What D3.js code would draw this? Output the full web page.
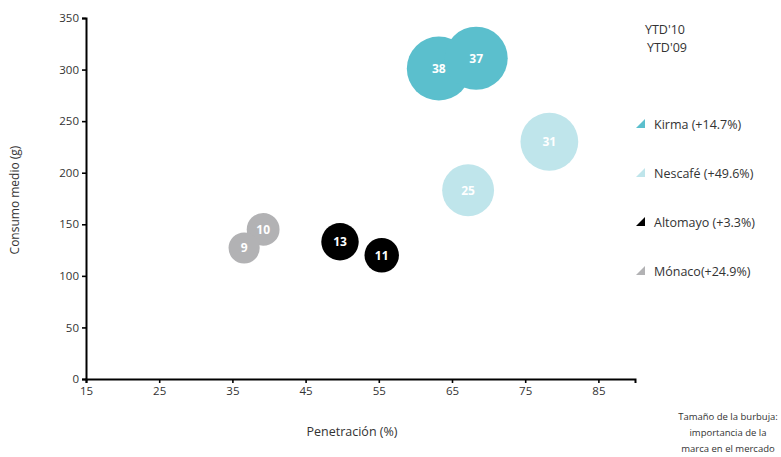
<!DOCTYPE html>
<html>
<head>
<meta charset="utf-8">
<script src="https://cdn.jsdelivr.net/npm/d3@7"></script>
<style>
  html, body { margin: 0; padding: 0; background: #fff; }
  svg { display: block; font-family: "Open Sans", "Noto Sans", sans-serif; }
</style>
</head>
<body>
<svg id="chart" width="781" height="457"></svg>
<script>
// Brand bubbles: penetration (%), average consumption (g), market weight
const brands      = ["Kirma", "Kirma", "Nescafé", "Nescafé", "Altomayo", "Altomayo", "Mónaco", "Mónaco"];
const penetration = [63.2, 68.3, 78.3, 67.2, 49.7, 55.4, 39.2, 36.6];
const consumption = [301, 311, 230, 183, 133, 120, 145, 127];
const weight      = [38, 37, 31, 25, 13, 11, 10, 9];

const legendBrands = ["Kirma", "Nescafé", "Altomayo", "Mónaco"];
const legendLabels = ["Kirma (+14.7%)", "Nescafé (+49.6%)", "Altomayo (+3.3%)", "Mónaco(+24.9%)"];
const brandColors  = ["#5bbfcd", "#bfe5eb", "#000000", "#b2b2b4"];

const xTicks = [15, 25, 35, 45, 55, 65, 75, 85];
const yTicks = [0, 50, 100, 150, 200, 250, 300, 350];
const periodLabels = ["YTD'10", "YTD'09"];
const noteLines = ["Tamaño de la burbuja:", "importancia de la", "marca en el mercado"];

const svg = d3.select("#chart");
const textColor = "#333";

const x = d3.scaleLinear().domain([15, 90]).range([86, 635]);
const y = d3.scaleLinear().domain([0, 350]).range([379, 18]);
const r = d3.scaleSqrt().domain([0, 38]).range([0, 32]);
const color = d3.scaleOrdinal().domain(legendBrands).range(brandColors);

// Axes
const xAxis = svg.append("g")
  .attr("transform", `translate(0,${y(0)})`)
  .call(d3.axisBottom(x).tickValues(xTicks).tickSize(4).tickPadding(4));
const yAxis = svg.append("g")
  .attr("transform", `translate(${x(15)},0)`)
  .call(d3.axisLeft(y).tickValues(yTicks).tickSize(4).tickPadding(3));

[xAxis, yAxis].forEach(g => {
  g.select(".domain").attr("stroke", "#000").attr("stroke-width", 2);
  g.selectAll(".tick line").attr("stroke", "#000").attr("stroke-width", 1.6);
  g.selectAll(".tick text")
    .attr("fill", textColor)
    .style("font-size", "11.5px")
    .style("font-family", "\"Open Sans\", \"Noto Sans\", sans-serif");
});

// Axis titles
svg.append("text")
  .attr("x", 352).attr("y", 436)
  .attr("text-anchor", "middle")
  .attr("fill", textColor)
  .style("font-size", "12.5px")
  .text("Penetración (%)");

svg.append("text")
  .attr("transform", "translate(19,200) rotate(-90)")
  .attr("text-anchor", "middle")
  .attr("fill", textColor)
  .style("font-size", "12px")
  .text("Consumo medio (g)");

// Bubbles
const points = weight.map((w, i) => ({
  brand: brands[i], px: penetration[i], cy: consumption[i], w
}));

const bubble = svg.append("g").selectAll("g")
  .data(points)
  .join("g")
  .attr("transform", d => `translate(${x(d.px)},${y(d.cy)})`);

bubble.append("circle")
  .attr("r", d => r(d.w))
  .attr("fill", d => color(d.brand));

bubble.append("text")
  .attr("text-anchor", "middle")
  .attr("dy", "0.36em")
  .attr("fill", "#fff")
  .style("font-size", "12px")
  .style("font-weight", "bold")
  .text(d => d.w);

// Period labels
svg.append("g").selectAll("text")
  .data(periodLabels)
  .join("text")
  .attr("x", (d, i) => 645 + i * 2)
  .attr("y", (d, i) => 34 + i * 18)
  .attr("fill", textColor)
  .style("font-size", "12.5px")
  .text(d => d);

// Legend with triangle markers
const legend = svg.append("g").selectAll("g")
  .data(legendBrands)
  .join("g")
  .attr("transform", (d, i) => `translate(636,${128 + i * 49})`);

legend.append("path")
  .attr("d", "M0,0 L9,0 L9,-9 Z")
  .attr("fill", d => color(d));

legend.append("text")
  .attr("x", 18).attr("y", 1)
  .attr("fill", textColor)
  .style("font-size", "12.5px")
  .text((d, i) => legendLabels[i]);

// Bubble size note
svg.append("g").selectAll("text")
  .data(noteLines)
  .join("text")
  .attr("x", 728)
  .attr("y", (d, i) => 420 + i * 16)
  .attr("text-anchor", "middle")
  .attr("fill", textColor)
  .style("font-size", "9.5px")
  .text(d => d);
</script>
</body>
</html>
